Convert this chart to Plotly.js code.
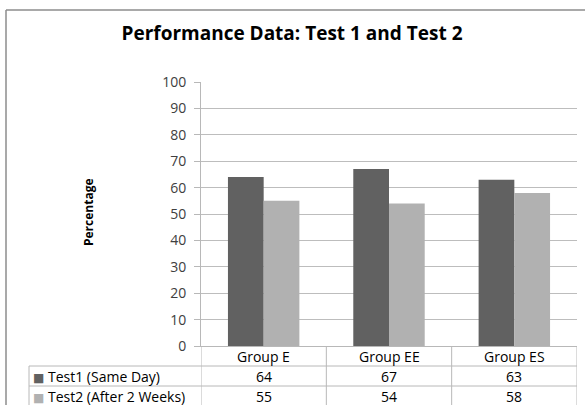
<!DOCTYPE html>
<html>
<head>
<meta charset="utf-8">
<script src="https://cdn.plot.ly/plotly-3.0.1.min.js"></script>
<style>html,body{margin:0;padding:0;background:#fff;}#chart{width:585px;height:405px;}</style>
</head>
<body>
<div id="chart"></div>
<script>
const categories = ["Group E", "Group EE", "Group ES"];
const seriesNames = ["Test1 (Same Day)", "Test2 (After 2 Weeks)"];
const test1 = [64, 67, 63];
const test2 = [55, 54, 58];
const seriesValues = [test1, test2];
const seriesColors = ["#616161", "#b1b1b1"];
const yTicks = [0, 10, 20, 30, 40, 50, 60, 70, 80, 90, 100];

const W = 585, H = 405;
const px = v => v / W;
const py = v => (H - v) / H;

const FONT = "Open Sans, DejaVu Sans, sans-serif";
const traces = seriesValues.map((vals, i) => ({
  type: "bar",
  x: categories,
  y: vals,
  name: seriesNames[i],
  marker: {color: seriesColors[i], line: {width: 0}},
  showlegend: false,
  hoverinfo: "none"
}));

const rowY = [py(356), py(376), py(396)];
const annotations = [];
categories.forEach(c => {
  annotations.push({x: c, xref: "x", y: rowY[0], yref: "paper", text: c, showarrow: false,
    xanchor: "center", yanchor: "middle", font: {family: FONT, size: 14, color: "#000"}});
});
seriesValues.forEach((vals, i) => {
  vals.forEach((v, j) => {
    annotations.push({x: categories[j], xref: "x", y: rowY[i + 1], yref: "paper", text: String(v), showarrow: false,
      xanchor: "center", yanchor: "middle", font: {family: FONT, size: 14, color: "#000"}});
  });
  annotations.push({x: px(31), xref: "paper", y: rowY[i + 1], yref: "paper",
    text: '<span style="color:' + seriesColors[i] + ';font-size:12px">■</span> ' + seriesNames[i], showarrow: false,
    xanchor: "left", yanchor: "middle", font: {family: FONT, size: 14, color: "#000"}});
});
annotations.push({x: px(88), xref: "paper", y: py(212), yref: "paper", text: "<b>Percentage</b>",
  textangle: -90, showarrow: false, xanchor: "center", yanchor: "middle",
  font: {family: FONT, size: 12, color: "#000"}});

const lineC = "#b8b8b8";
const shapes = [
  {type: "line", xref: "paper", yref: "paper", x0: px(6), x1: px(6), y0: py(10), y1: py(405), line: {color: "#8c8c8c", width: 1.5}},
  {type: "line", xref: "paper", yref: "paper", x0: px(6), x1: 1, y0: py(10), y1: py(10), line: {color: "#8c8c8c", width: 1.5}},
  {type: "line", xref: "paper", yref: "paper", x0: px(29), x1: px(577), y0: py(366), y1: py(366), line: {color: lineC, width: 1}},
  {type: "line", xref: "paper", yref: "paper", x0: px(29), x1: px(577), y0: py(386), y1: py(386), line: {color: lineC, width: 1}},
  {type: "line", xref: "paper", yref: "paper", x0: px(29), x1: px(29), y0: py(366), y1: 0, line: {color: lineC, width: 1}}
];
[-0.5, 0.5, 1.5, 2.5].forEach(xv => {
  shapes.push({type: "line", xref: "x", yref: "paper", x0: xv, x1: xv, y0: py(346), y1: 0, line: {color: lineC, width: 1}});
});

const layout = {
  width: W, height: H,
  margin: {l: 0, r: 0, t: 0, b: 0},
  paper_bgcolor: "#fff", plot_bgcolor: "#fff",
  title: {text: "<b>Performance Data: Test 1 and Test 2</b>", x: px(292), xanchor: "center", y: py(33), yanchor: "middle",
    font: {family: FONT, size: 19, color: "#000"}},
  barmode: "group", bargap: 0.43, bargroupgap: 0,
  xaxis: {domain: [px(201), px(577)], type: "category", range: [-0.5, 2.5], showticklabels: false,
    showgrid: false, zeroline: false, showline: true, linecolor: lineC, linewidth: 1, ticks: ""},
  yaxis: {domain: [py(346), py(82)], range: [0, 100], tickvals: yTicks, ticktext: yTicks.map(String),
    showgrid: true, gridcolor: "#bdbdbd", gridwidth: 1, zeroline: false, showline: true, linecolor: lineC, linewidth: 1,
    ticks: "outside", ticklen: 6, tickcolor: lineC, ticklabelstandoff: 5,
    tickfont: {family: FONT, size: 14, color: "#404040"}},
  shapes: shapes,
  annotations: annotations
};

Plotly.newPlot("chart", traces, layout, {staticPlot: true, displayModeBar: false});
</script>
</body>
</html>
